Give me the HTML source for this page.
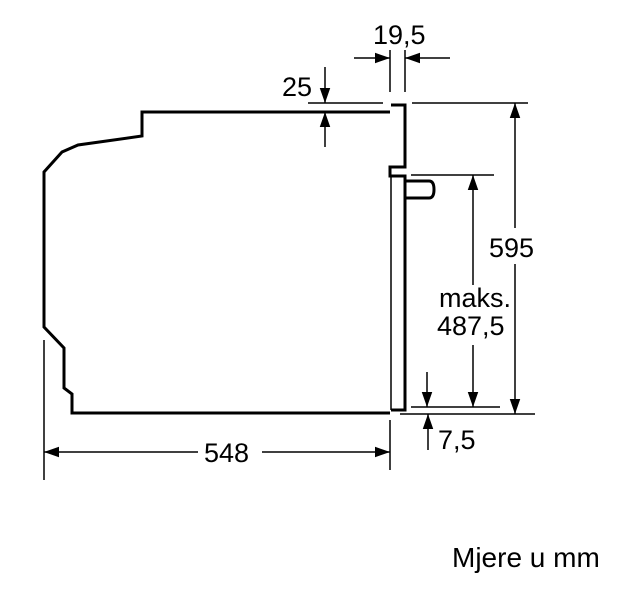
<!DOCTYPE html>
<html><head><style>body{margin:0;background:#fff}svg{display:block}text{font-family:"Liberation Sans",sans-serif;fill:#000}</style></head>
<body>
<svg width="640" height="609" viewBox="0 0 640 609" xmlns="http://www.w3.org/2000/svg">
<defs>
<marker id="b" viewBox="0 0 10 10" refX="10" refY="5" markerWidth="15" markerHeight="15" markerUnits="userSpaceOnUse" orient="auto"><path d="M0,1.5L10,5L0,8.5z"/></marker>
</defs>
<g fill="none" stroke="#000" stroke-width="3" stroke-linejoin="miter">
<path d="M390,112 H142 V136 L78,145 L62,152 L44,172 V327 L64,348 V388 L72,394 V413 H390"/>
<path d="M391,105 H405 V167 H390 V176 H405 V410 H391"/>
<path d="M405,181 H429 Q434,181 434,189.5 Q434,198 429,198 H405"/>
</g>
<g stroke="#000" stroke-width="1.5" fill="none">
<path d="M391,176 V410"/>
<path d="M44,340 V480 M390,420 V470"/>
<path d="M390,50 V92 M405,50 V92"/>
<path d="M308,103 H383 M412,103 H528 M411,175 H494 M411,407 H500 M400,414 H535"/>
</g>
<g stroke="#000" stroke-width="1.5" marker-end="url(#b)">
<line x1="198" y1="452" x2="44" y2="452"/>
<line x1="262" y1="452" x2="390" y2="452"/>
<line x1="354" y1="58" x2="390" y2="58"/>
<line x1="450" y1="58" x2="405" y2="58"/>
<line x1="325" y1="67" x2="325" y2="103"/>
<line x1="325" y1="147" x2="325" y2="112"/>
<line x1="515" y1="228" x2="515" y2="103"/>
<line x1="515" y1="264" x2="515" y2="414"/>
<line x1="473" y1="285" x2="473" y2="175"/>
<line x1="473" y1="345" x2="473" y2="407"/>
<line x1="427" y1="372" x2="427" y2="407"/>
<line x1="428" y1="450" x2="428" y2="414"/>
</g>
<g font-size="27">
<text x="373" y="44">19,5</text>
<text x="282" y="96">25</text>
<text x="489" y="257">595</text>
<text x="439" y="307">maks.</text>
<text x="437" y="335">487,5</text>
<text x="438" y="449">7,5</text>
<text x="204" y="462">548</text>
<text x="452" y="567" font-size="28">Mjere u mm</text>
</g>
</svg>
</body></html>
